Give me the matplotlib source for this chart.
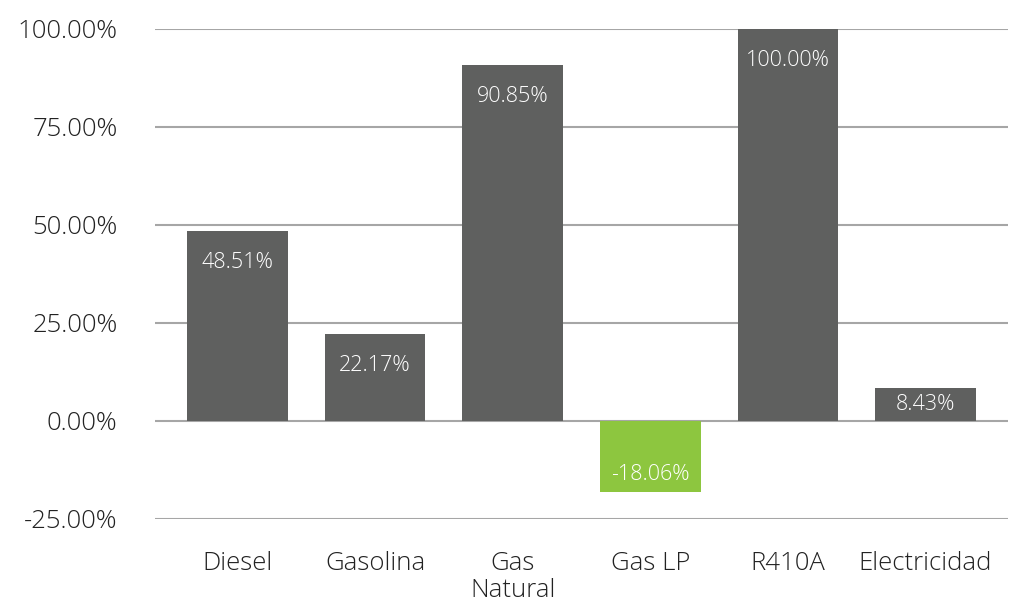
import matplotlib
matplotlib.use("Agg")
import matplotlib.pyplot as plt
from matplotlib.ticker import FuncFormatter

# --- Datos ---
categorias = ["Diesel", "Gasolina", "Gas\nNatural", "Gas LP", "R410A", "Electricidad"]
valores = [48.51, 22.17, 90.85, -18.06, 100.00, 8.43]
etiquetas = ["48.51%", "22.17%", "90.85%", "-18.06%", "100.00%", "8.43%"]

GRIS = "#5f605f"
VERDE = "#8dc63f"

plt.rcParams["font.family"] = ["Open Sans", "DejaVu Sans"]
plt.rcParams["font.weight"] = 300

fig = plt.figure(figsize=(10.11, 6.06), dpi=100)
ax = fig.add_axes([155 / 1011, 1 - 519 / 606, (1008 - 155) / 1011, (519 - 29) / 606])

colores = [VERDE if v < 0 else GRIS for v in valores]
x = range(len(categorias))
ax.bar(x, valores, width=0.73, color=colores, zorder=3)

# --- Etiquetas de valor dentro de las barras ---
for i, (v, t) in enumerate(zip(valores, etiquetas)):
    if v < 0:
        ax.annotate(t, (i, v), xytext=(0, 5), textcoords="offset points",
                    ha="center", va="bottom", color="white", fontsize=15.5, zorder=4)
    elif v < 15:
        ax.text(i, v / 2, t, ha="center", va="center", color="white",
                fontsize=15.5, zorder=4)
    else:
        ax.annotate(t, (i, v), xytext=(0, -15), textcoords="offset points",
                    ha="center", va="top", color="white", fontsize=15.5, zorder=4)

ax.set_ylim(-25, 100)
ax.set_xlim(-0.6, 5.6)
ax.set_yticks([-25, 0, 25, 50, 75, 100])
ax.yaxis.set_major_formatter(FuncFormatter(lambda v, p: f"{v:.2f}%"))
ax.set_xticks(list(x))
ax.set_xticklabels(categorias, fontsize=18.5, color="#222222", linespacing=1.12)
ax.tick_params(axis="y", labelsize=18.5, labelcolor="#222222", length=0, pad=27)
ax.tick_params(axis="x", length=0, pad=23)

ax.grid(axis="y", color="#a6a6a6", linewidth=1.5, zorder=0)
for s in ax.spines.values():
    s.set_visible(False)

fig.savefig("out.png", dpi=100)
